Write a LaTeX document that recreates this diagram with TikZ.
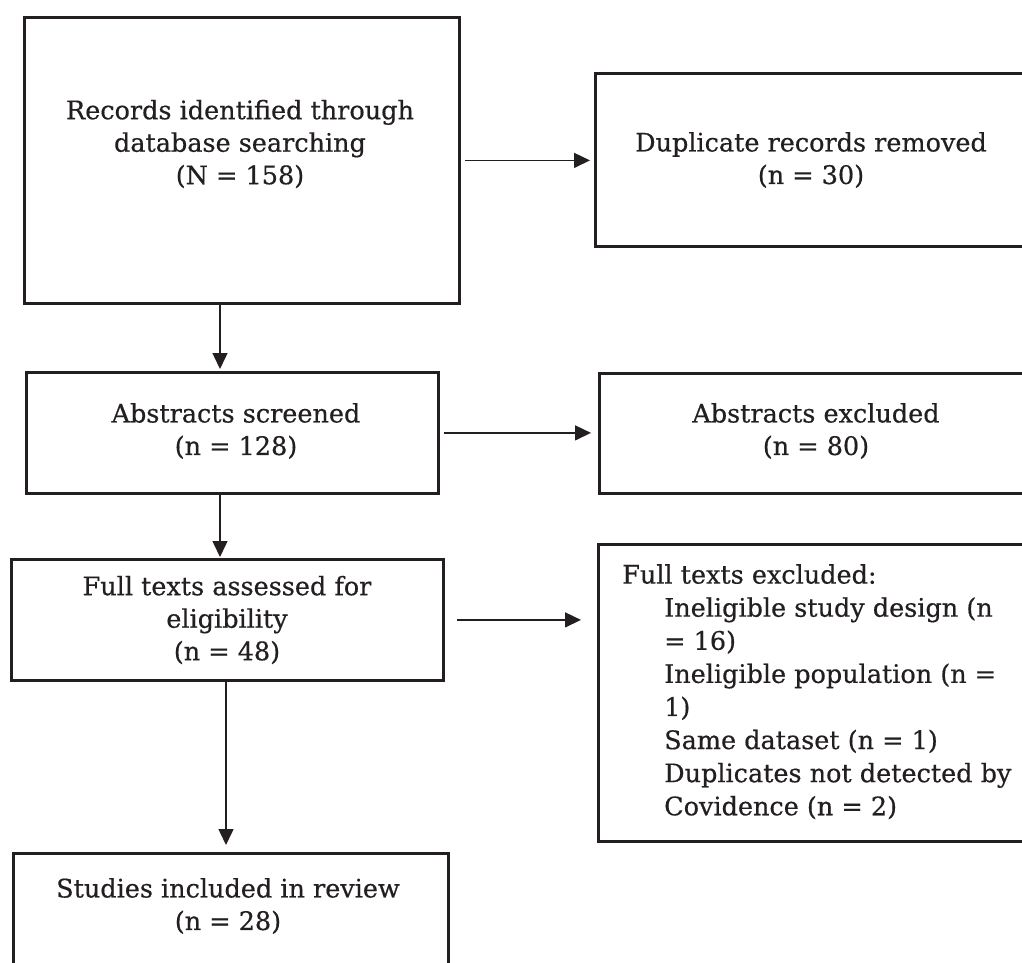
\documentclass[tikz,border=0pt]{standalone}
\usepackage{fontspec}
\setmainfont{DejaVu Serif}[BoldFont={DejaVu Serif}, BoldFeatures={FakeBold=0.5}]
\usetikzlibrary{arrows.meta}
\definecolor{ink}{HTML}{231F20}
\tikzset{
  x=1pt, y=-1pt,
  box/.style={draw=ink, line width=2.8pt, inner sep=0pt, anchor=north west},
  txt/.style={text=ink, align=center, inner sep=0pt, font=\fontsize{25.5}{32.5}\selectfont\bfseries},
  ltxt/.style={text=ink, align=left, inner sep=0pt, anchor=north west, font=\fontsize{25.5}{33.1}\selectfont\bfseries},
  arr/.style={draw=ink, line width=1.5pt, -{Triangle[length=16pt,width=15pt]}}
}
\begin{document}
\begin{tikzpicture}
\useasboundingbox (0,0) rectangle (1022,963);
\clip (0,0) rectangle (1022,963);
% boxes
\node[box, minimum width=435pt, minimum height=286pt] (b1) at (23,16) {};
\node[box, minimum width=440pt, minimum height=173pt] (b2) at (594,72) {};
\node[box, minimum width=412pt, minimum height=121pt] (b3) at (25,371) {};
\node[box, minimum width=440pt, minimum height=120pt] (b4) at (598,372) {};
\node[box, minimum width=432pt, minimum height=121pt] (b5) at (10,558) {};
\node[box, minimum width=440pt, minimum height=297pt] (b6) at (597,543) {};
\node[box, minimum width=435pt, minimum height=160pt] (b7) at (12,852) {};
% texts
\node[txt] (t1) at (240,144) {Records identified through\\database searching\\(N = 158)};
\node[txt] (t2) at (811,160) {Duplicate records removed\\(n = 30)};
\node[txt] (t3) at (236,431) {Abstracts screened\\(n = 128)};
\node[txt] (t4) at (816,431) {Abstracts excluded\\(n = 80)};
\node[txt] (t5) at (227,620) {Full texts assessed for\\eligibility\\(n = 48)};
\node[txt] (t7) at (228,906) {Studies included in review\\(n = 28)};
\node[ltxt] (t6) at (622,564) {Full texts excluded:\\
\hspace*{42pt}Ineligible study design (n\\
\hspace*{42pt}= 16)\\
\hspace*{42pt}Ineligible population (n =\\
\hspace*{42pt}1)\\
\hspace*{42pt}Same dataset (n = 1)\\
\hspace*{42pt}Duplicates not detected by\\
\hspace*{42pt}Covidence (n = 2)};
% connector x positions
\coordinate (c1) at (220,0);
\coordinate (c2) at (226,0);
% connectors
\draw[arr, shorten <=4pt, shorten >=4pt] (b1.east) -- (b1.east -| b2.west);
\draw[arr, shorten <=4pt, shorten >=7pt] (b3.east) -- (b3.east -| b4.west);
\draw[arr, shorten <=12pt, shorten >=16pt] (b5.east) -- (b5.east -| b6.west);
\draw[arr, shorten >=2pt] (b1.south -| c1) -- (b3.north -| c1);
\draw[arr, shorten >=1pt] (b3.south -| c1) -- (b5.north -| c1);
\draw[arr, shorten >=7pt] (b5.south -| c2) -- (b7.north -| c2);
\end{tikzpicture}
\end{document}
